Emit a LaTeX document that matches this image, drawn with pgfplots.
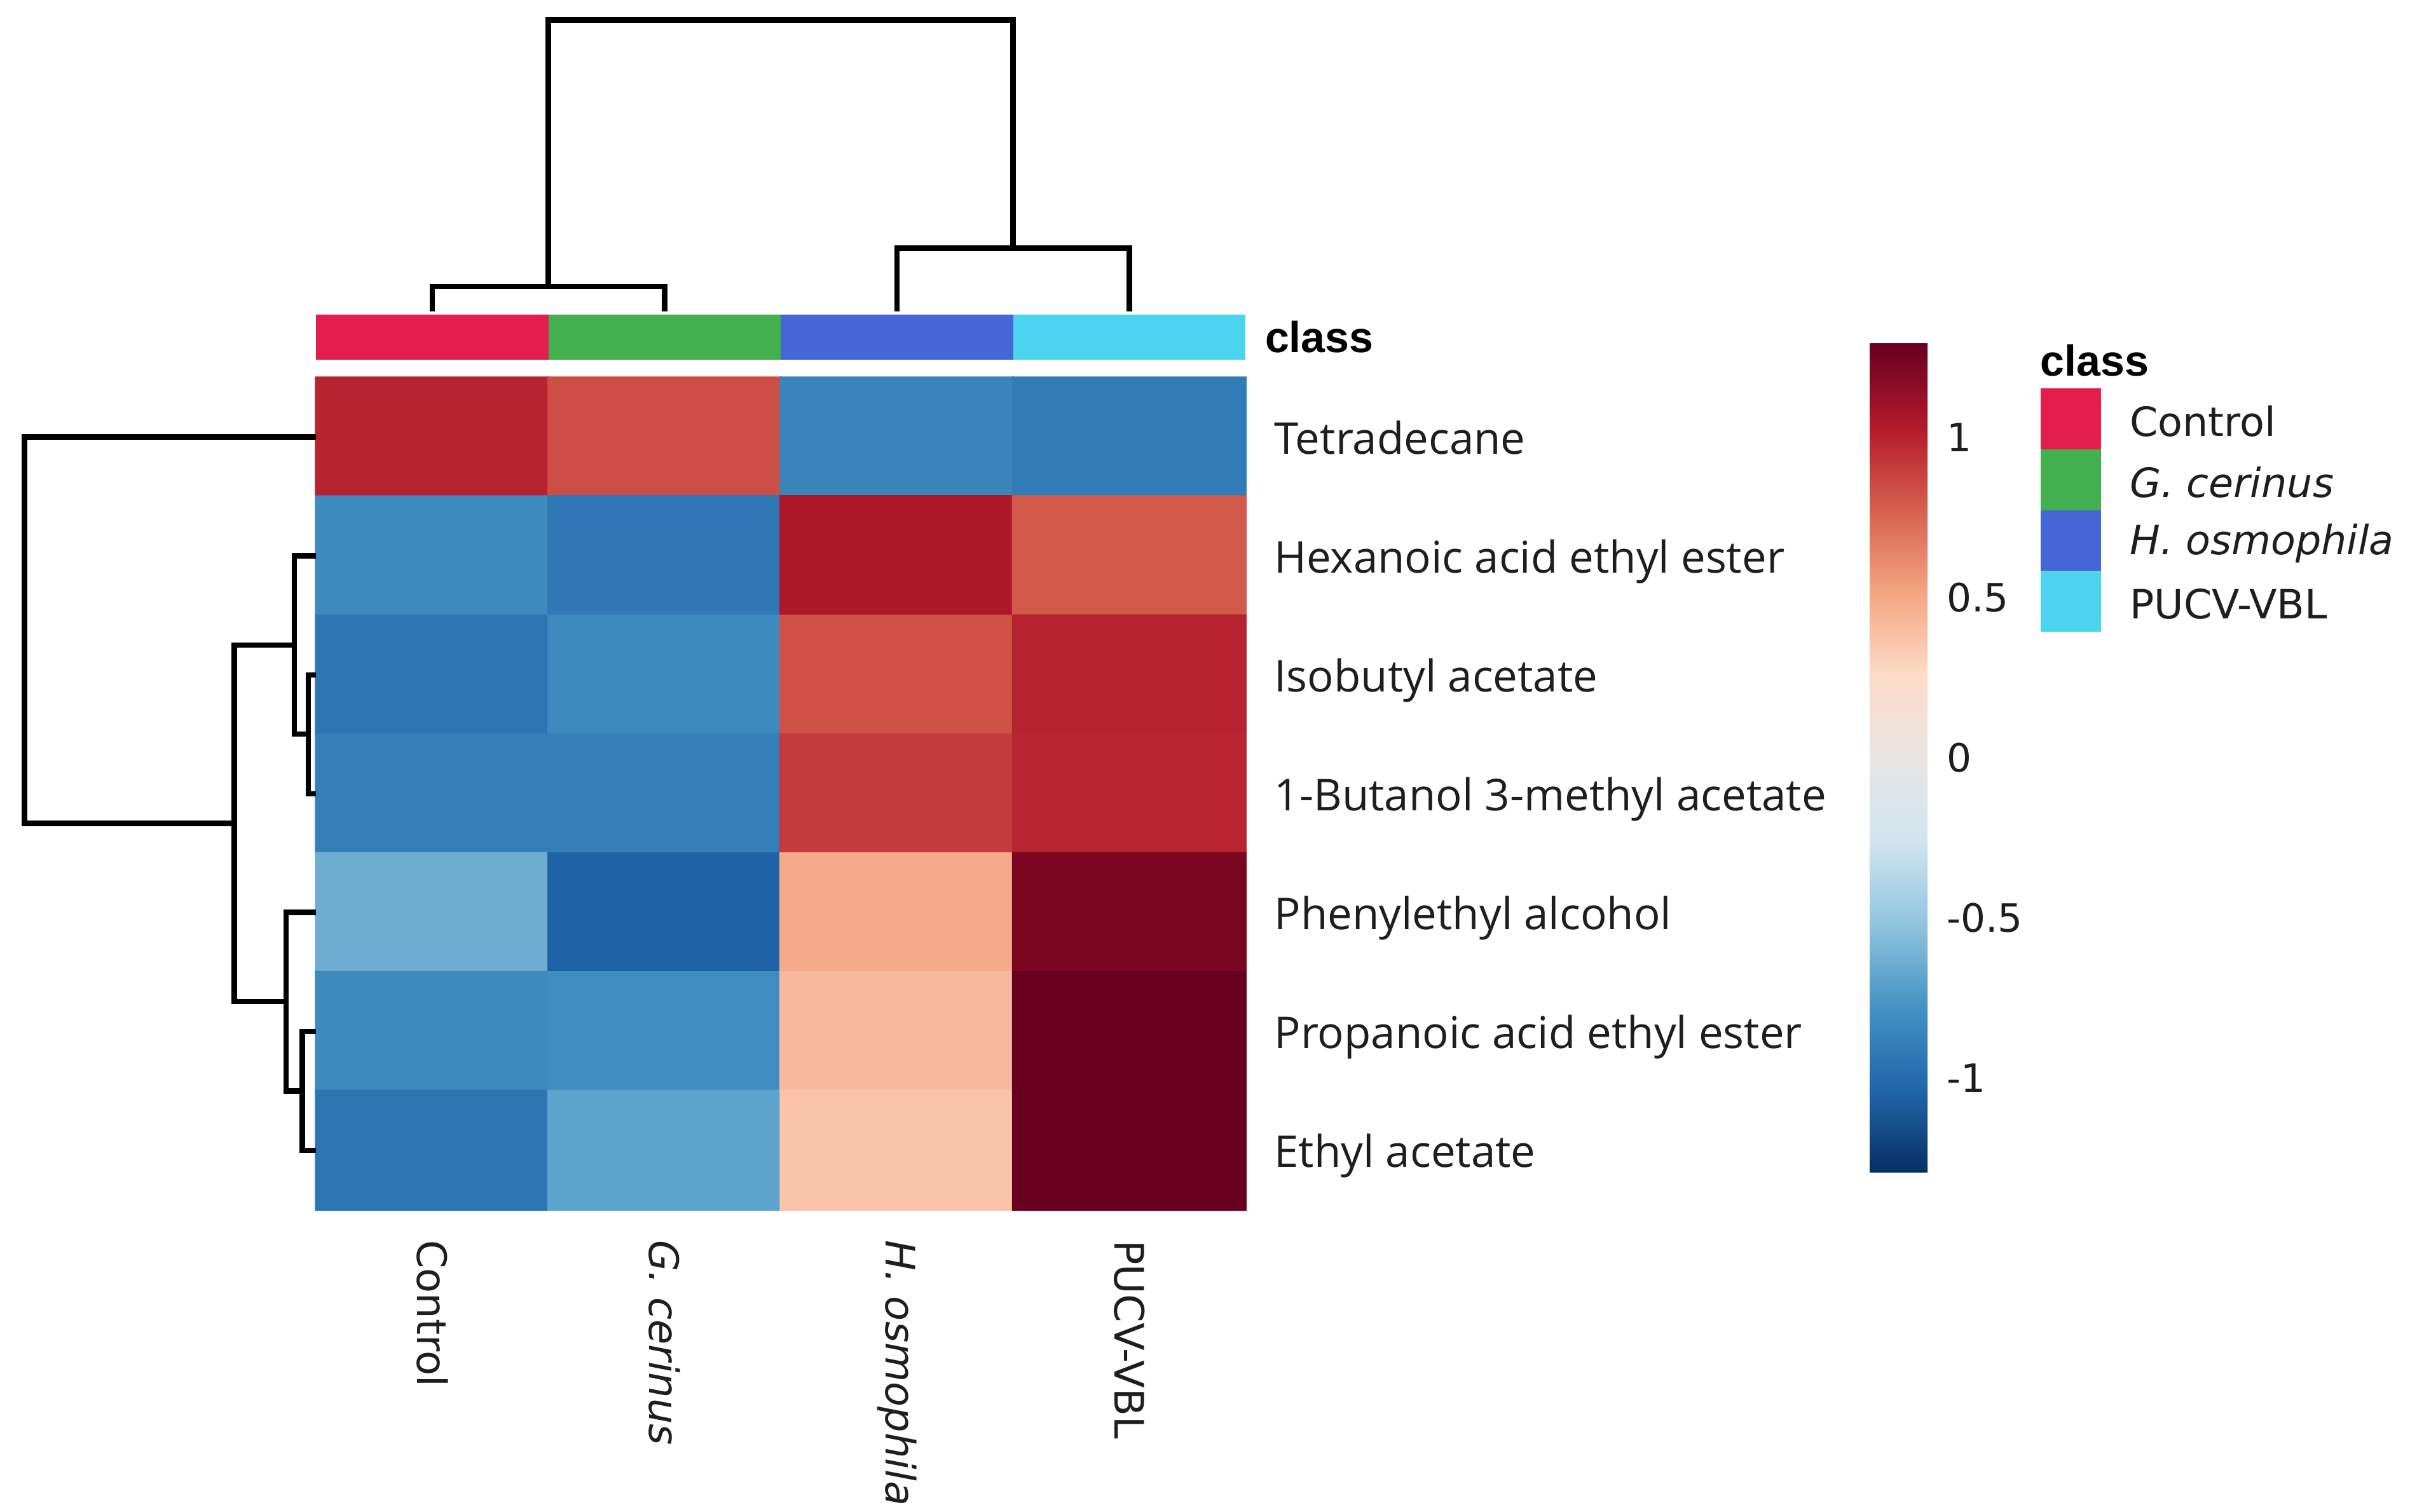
\documentclass[border=0pt]{standalone}
\usepackage{pgfplots}
\pgfplotsset{compat=1.18}
\usepackage{fontspec}
\setmainfont{Open Sans}
\newfontfamily\dejavu{DejaVu Sans}
\newfontfamily\libsans{Liberation Sans}

\definecolor{cControl}{RGB}{228,30,76}
\definecolor{cGcer}{RGB}{67,176,79}
\definecolor{cHosm}{RGB}{69,103,214}
\definecolor{cPucv}{RGB}{74,212,240}
\definecolor{txt}{RGB}{30,30,30}

% scaled z-scores, rows top to bottom, columns Control, G. cerinus, H. osmophila, PUCV-VBL
% x/y are the cell centres in picture units (1 unit = 0.1 mm)
\pgfplotstableread{
x y c
280.4 283.6 1.00
431.1 283.6 0.84
581.9 283.6 -0.86
732.6 283.6 -0.91
280.4 360.7 -0.83
431.1 360.7 -0.93
581.9 360.7 1.05
732.6 360.7 0.80
280.4 437.9 -0.94
431.1 437.9 -0.83
581.9 437.9 0.83
732.6 437.9 1.00
280.4 515.0 -0.89
431.1 515.0 -0.89
581.9 515.0 0.91
732.6 515.0 0.99
280.4 592.1 -0.64
431.1 592.1 -1.05
581.9 592.1 0.49
732.6 592.1 1.23
280.4 669.3 -0.83
431.1 669.3 -0.81
581.9 669.3 0.42
732.6 669.3 1.29
280.4 746.4 -0.95
431.1 746.4 -0.69
581.9 746.4 0.37
732.6 746.4 1.29
}\heat

\begin{document}
\begin{tikzpicture}
\begin{axis}[
  scale only axis,
  width=156.8mm, height=98.1mm,
  xmin=0, xmax=1568, ymin=0, ymax=981,
  y dir=reverse,
  axis line style={draw=none},
  xtick=\empty, ytick=\empty,
  clip=false,
  no markers,
  colormap={rdbu}{rgb255=(5,48,97) rgb255=(33,102,172) rgb255=(67,147,195)
    rgb255=(146,197,222) rgb255=(209,229,240) rgb255=(232,228,226)
    rgb255=(253,219,199) rgb255=(244,165,130) rgb255=(214,96,77)
    rgb255=(178,24,43) rgb255=(103,0,31)},
  point meta min=-1.293, point meta max=1.293,
  colorbar,
  colorbar style={
    at={(parent axis.north west)}, anchor=north west,
    xshift=118.3mm, yshift=-22.27mm,
    scale only axis, width=3.75mm, height=53.78mm,
    axis line style={draw=none},
    major tick length=0pt,
    yticklabel pos=right,
    ytick={-1,-0.5,0,0.5,1},
    yticklabels={-1,-0.5,0,0.5,1},
    yticklabel style={font=\dejavu\fontsize{7.2}{8}\selectfont, text=txt},
  },
]
% heatmap
\addplot[matrix plot*, mesh/cols=4, point meta=explicit] table[x=x, y=y, meta=c] {\heat};

% class bar
\addplot[fill=cControl, draw=none] coordinates {(205,204) (355.75,204) (355.75,233.5) (205,233.5)};
\addplot[fill=cGcer, draw=none] coordinates {(355.75,204) (506.5,204) (506.5,233.5) (355.75,233.5)};
\addplot[fill=cHosm, draw=none] coordinates {(506.5,204) (657.25,204) (657.25,233.5) (506.5,233.5)};
\addplot[fill=cPucv, draw=none] coordinates {(657.25,204) (808,204) (808,233.5) (657.25,233.5)};

% column dendrogram
\addplot[black, line width=1pt] coordinates {(280.4,202) (280.4,186) (431.1,186) (431.1,202)};
\addplot[black, line width=1pt] coordinates {(581.9,202) (581.9,161) (732.6,161) (732.6,202)};
\addplot[black, line width=1pt] coordinates {(355.7,186) (355.7,13) (657.2,13) (657.2,161)};

% row dendrogram
\addplot[black, line width=1pt] coordinates {(205,437.9) (200,437.9) (200,515.0) (205,515.0)};
\addplot[black, line width=1pt] coordinates {(205,360.7) (191,360.7) (191,476.4) (200,476.4)};
\addplot[black, line width=1pt] coordinates {(205,669.3) (196,669.3) (196,746.4) (205,746.4)};
\addplot[black, line width=1pt] coordinates {(205,592.1) (185.5,592.1) (185.5,707.9) (196,707.9)};
\addplot[black, line width=1pt] coordinates {(191,418.6) (152,418.6) (152,650) (185.5,650)};
\addplot[black, line width=1pt] coordinates {(205,283.6) (15.8,283.6) (15.8,534.3) (152,534.3)};

% legend swatches
\addplot[fill=cControl, draw=none] coordinates {(1324,252) (1363,252) (1363,291.5) (1324,291.5)};
\addplot[fill=cGcer, draw=none] coordinates {(1324,291.5) (1363,291.5) (1363,331) (1324,331)};
\addplot[fill=cHosm, draw=none] coordinates {(1324,331) (1363,331) (1363,370.5) (1324,370.5)};
\addplot[fill=cPucv, draw=none] coordinates {(1324,370.5) (1363,370.5) (1363,410) (1324,410)};

% row labels
\begin{scope}[every node/.style={anchor=base west, inner sep=0pt, text=txt, font=\fontsize{8.1}{9}\selectfont}]
\node at (axis cs:826,294.6) {Tetradecane};
\node at (axis cs:826,371.7) {Hexanoic acid ethyl ester};
\node at (axis cs:826,448.9) {Isobutyl acetate};
\node at (axis cs:826,526.0) {1-Butanol 3-methyl acetate};
\node at (axis cs:826,603.1) {Phenylethyl alcohol};
\node at (axis cs:826,680.3) {Propanoic acid ethyl ester};
\node at (axis cs:826,757.4) {Ethyl acetate};
\end{scope}

% column labels
\begin{scope}[every node/.style={anchor=west, rotate=-90, inner sep=0pt, text=txt, font=\dejavu\fontsize{7.5}{9}\selectfont}]
\node at (axis cs:280.4,804) {Control};
\node at (axis cs:431.1,804) {\itshape G. cerinus};
\node at (axis cs:581.9,804) {\itshape H. osmophila};
\node at (axis cs:732.6,804) {PUCV-VBL};
\end{scope}

% class labels
\node[anchor=west, inner sep=0pt, font=\libsans\bfseries\fontsize{8}{9}\selectfont] at (axis cs:820,218.8) {class};
\node[anchor=west, inner sep=0pt, font=\libsans\bfseries\fontsize{8}{9}\selectfont] at (axis cs:1323,233.8) {class};
\begin{scope}[every node/.style={anchor=west, inner sep=0pt, text=txt, font=\dejavu\fontsize{7.45}{9}\selectfont}]
\node at (axis cs:1381,273.5) {Control};
\node at (axis cs:1381,313) {\itshape G. cerinus};
\node at (axis cs:1381,352.5) {\itshape H. osmophila};
\node at (axis cs:1381,392) {PUCV-VBL};
\end{scope}
\end{axis}
\end{tikzpicture}
\end{document}
